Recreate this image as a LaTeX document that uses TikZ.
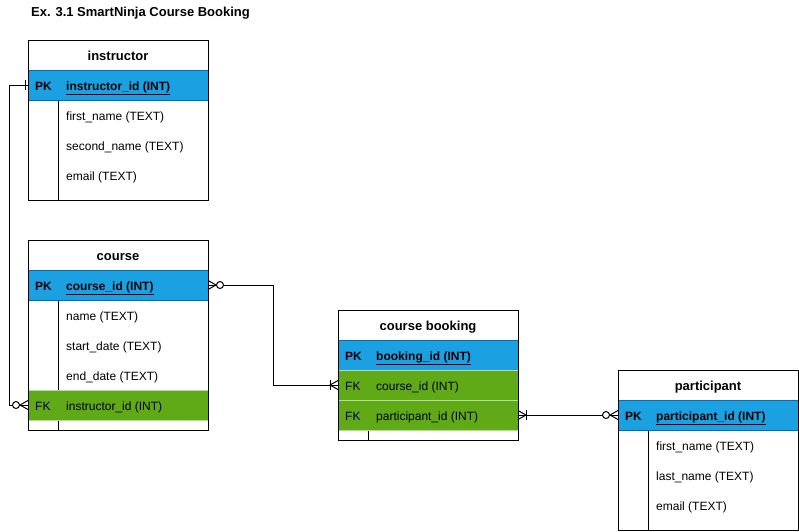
\documentclass[tikz,border=0pt]{standalone}
\usepackage{fontspec}
\setmainfont{Liberation Sans}
\definecolor{pkblue}{HTML}{1BA1E2}
\definecolor{pkline}{HTML}{006EAF}
\definecolor{fkgreen}{HTML}{60A917}
\definecolor{fkline}{HTML}{B9DB9C}
\newcommand\ERmany[2]{\begin{scope}[shift={(#1)},xscale=#2]\draw[conn] (0,-4.5) -- (8,0) -- (0,4.5);\end{scope}}
\newcommand\ERbar[3]{\begin{scope}[shift={(#1)},xscale=#2]\draw[conn] (#3,-5) -- (#3,5);\end{scope}}
\newcommand\ERcirc[2]{\begin{scope}[shift={(#1)},xscale=#2]\draw[conn,fill=white] (12,0) circle[radius=3.5];\end{scope}}
\begin{document}
\begin{tikzpicture}[x=1pt,y=-1pt,
  tbl/.style={draw=black,fill=white,line width=1pt,minimum width=180,anchor=north west,inner sep=0,outer sep=0},
  pkrow/.style={fill=pkblue,draw=pkline,line width=0.8pt,minimum width=180,minimum height=30,anchor=north west,inner sep=0,outer sep=0},
  fkrow/.style={fill=fkgreen,draw=fkline,line width=0.8pt,minimum width=180,minimum height=30,anchor=north west,inner sep=0,outer sep=0},
  txt/.style={anchor=base west,inner sep=0,font=\fontsize{12}{14}\selectfont},
  hdr/.style={anchor=base,inner sep=0,font=\fontsize{13}{15}\selectfont\bfseries},
  divider/.style={draw=black,line width=1pt},
  conn/.style={draw=black,line width=1pt}]
\useasboundingbox (0,0) rectangle (799,531);
\node[txt,font=\fontsize{13}{15}\selectfont\bfseries] (title) at (31,16.2) {Ex. 3.1 SmartNinja Course Booking};

% ---------- instructor ----------
\node[tbl,minimum height=160] (instr) at (28,40) {};
\draw[divider] (58,100) -- (58,200);
\node[pkrow] (ipk) at (28,70) {};
\draw[line width=1pt] (instr.north west) rectangle (instr.south east);
\node[hdr] (instrh) at (118,60.4) {instructor};
\node[txt] (ipkk) at (35,90) {\bfseries PK};
\node[txt] (ipkt) at (66,90) {\bfseries\underline{instructor\_id (INT)}};
\node[txt] (if1) at (66,120) {first\_name (TEXT)};
\node[txt] (if2) at (66,150) {second\_name (TEXT)};
\node[txt] (if3) at (66,180) {email (TEXT)};

% ---------- course ----------
\node[tbl,minimum height=190] (course) at (28,240) {};
\draw[divider] (58,300) -- (58,430);
\node[pkrow] (cpk) at (28,270) {};
\node[fkrow] (cfk) at (28,390) {};
\draw[line width=1pt] (course.north west) rectangle (course.south east);
\node[hdr] (courseh) at (118,260.4) {course};
\node[txt] (cpkk) at (35,290) {\bfseries PK};
\node[txt] (cpkt) at (66,290) {\bfseries\underline{course\_id (INT)}};
\node[txt] (cf1) at (66,320) {name (TEXT)};
\node[txt] (cf2) at (66,350) {start\_date (TEXT)};
\node[txt] (cf3) at (66,380) {end\_date (TEXT)};
\node[txt] (cfkk) at (35,410) {FK};
\node[txt] (cfkt) at (66,410) {instructor\_id (INT)};

% ---------- course booking ----------
\node[tbl,minimum height=130] (book) at (338,310) {};
\draw[divider] (368,430) -- (368,440);
\node[pkrow] (bpk) at (338,340) {};
\node[fkrow] (bcfk) at (338,370) {};
\node[fkrow] (bpfk) at (338,400) {};
\draw[line width=1pt] (book.north west) rectangle (book.south east);
\node[hdr] (bookh) at (428,330.4) {course booking};
\node[txt] (bpkk) at (345,360) {\bfseries PK};
\node[txt] (bpkt) at (376,360) {\bfseries\underline{booking\_id (INT)}};
\node[txt] (bcfkk) at (345,390) {FK};
\node[txt] (bcfkt) at (376,390) {course\_id (INT)};
\node[txt] (bpfkk) at (345,420) {FK};
\node[txt] (bpfkt) at (376,420) {participant\_id (INT)};

% ---------- participant ----------
\node[tbl,minimum height=160] (part) at (618,370) {};
\draw[divider] (648,430) -- (648,530);
\node[pkrow] (ppk) at (618,400) {};
\draw[line width=1pt] (part.north west) rectangle (part.south east);
\node[hdr] (parth) at (708,390.4) {participant};
\node[txt] (ppkk) at (625,420) {\bfseries PK};
\node[txt] (ppkt) at (656,420) {\bfseries\underline{participant\_id (INT)}};
\node[txt] (pf1) at (656,450) {first\_name (TEXT)};
\node[txt] (pf2) at (656,480) {last\_name (TEXT)};
\node[txt] (pf3) at (656,510) {email (TEXT)};

% ---------- connectors ----------
% instructor (one) -- course (zero or many)
\draw[conn] (ipk.west) -- ++(-19,0) |- (cfk.west);
\ERbar{ipk.west}{-1}{3}
\ERmany{cfk.west}{-1}
\ERcirc{cfk.west}{-1}

% course (zero or many) -- booking (one or many)
\draw[conn] (cpk.east) -- ++(65,0) |- (bcfk.west);
\ERmany{cpk.east}{1}
\ERcirc{cpk.east}{1}
\ERmany{bcfk.west}{-1}
\ERbar{bcfk.west}{-1}{8}

% booking (one or many) -- participant (zero or many)
\draw[conn] (bpfk.east) -- (ppk.west);
\ERmany{bpfk.east}{1}
\ERbar{bpfk.east}{1}{8}
\ERmany{ppk.west}{-1}
\ERcirc{ppk.west}{-1}
\end{tikzpicture}
\end{document}
